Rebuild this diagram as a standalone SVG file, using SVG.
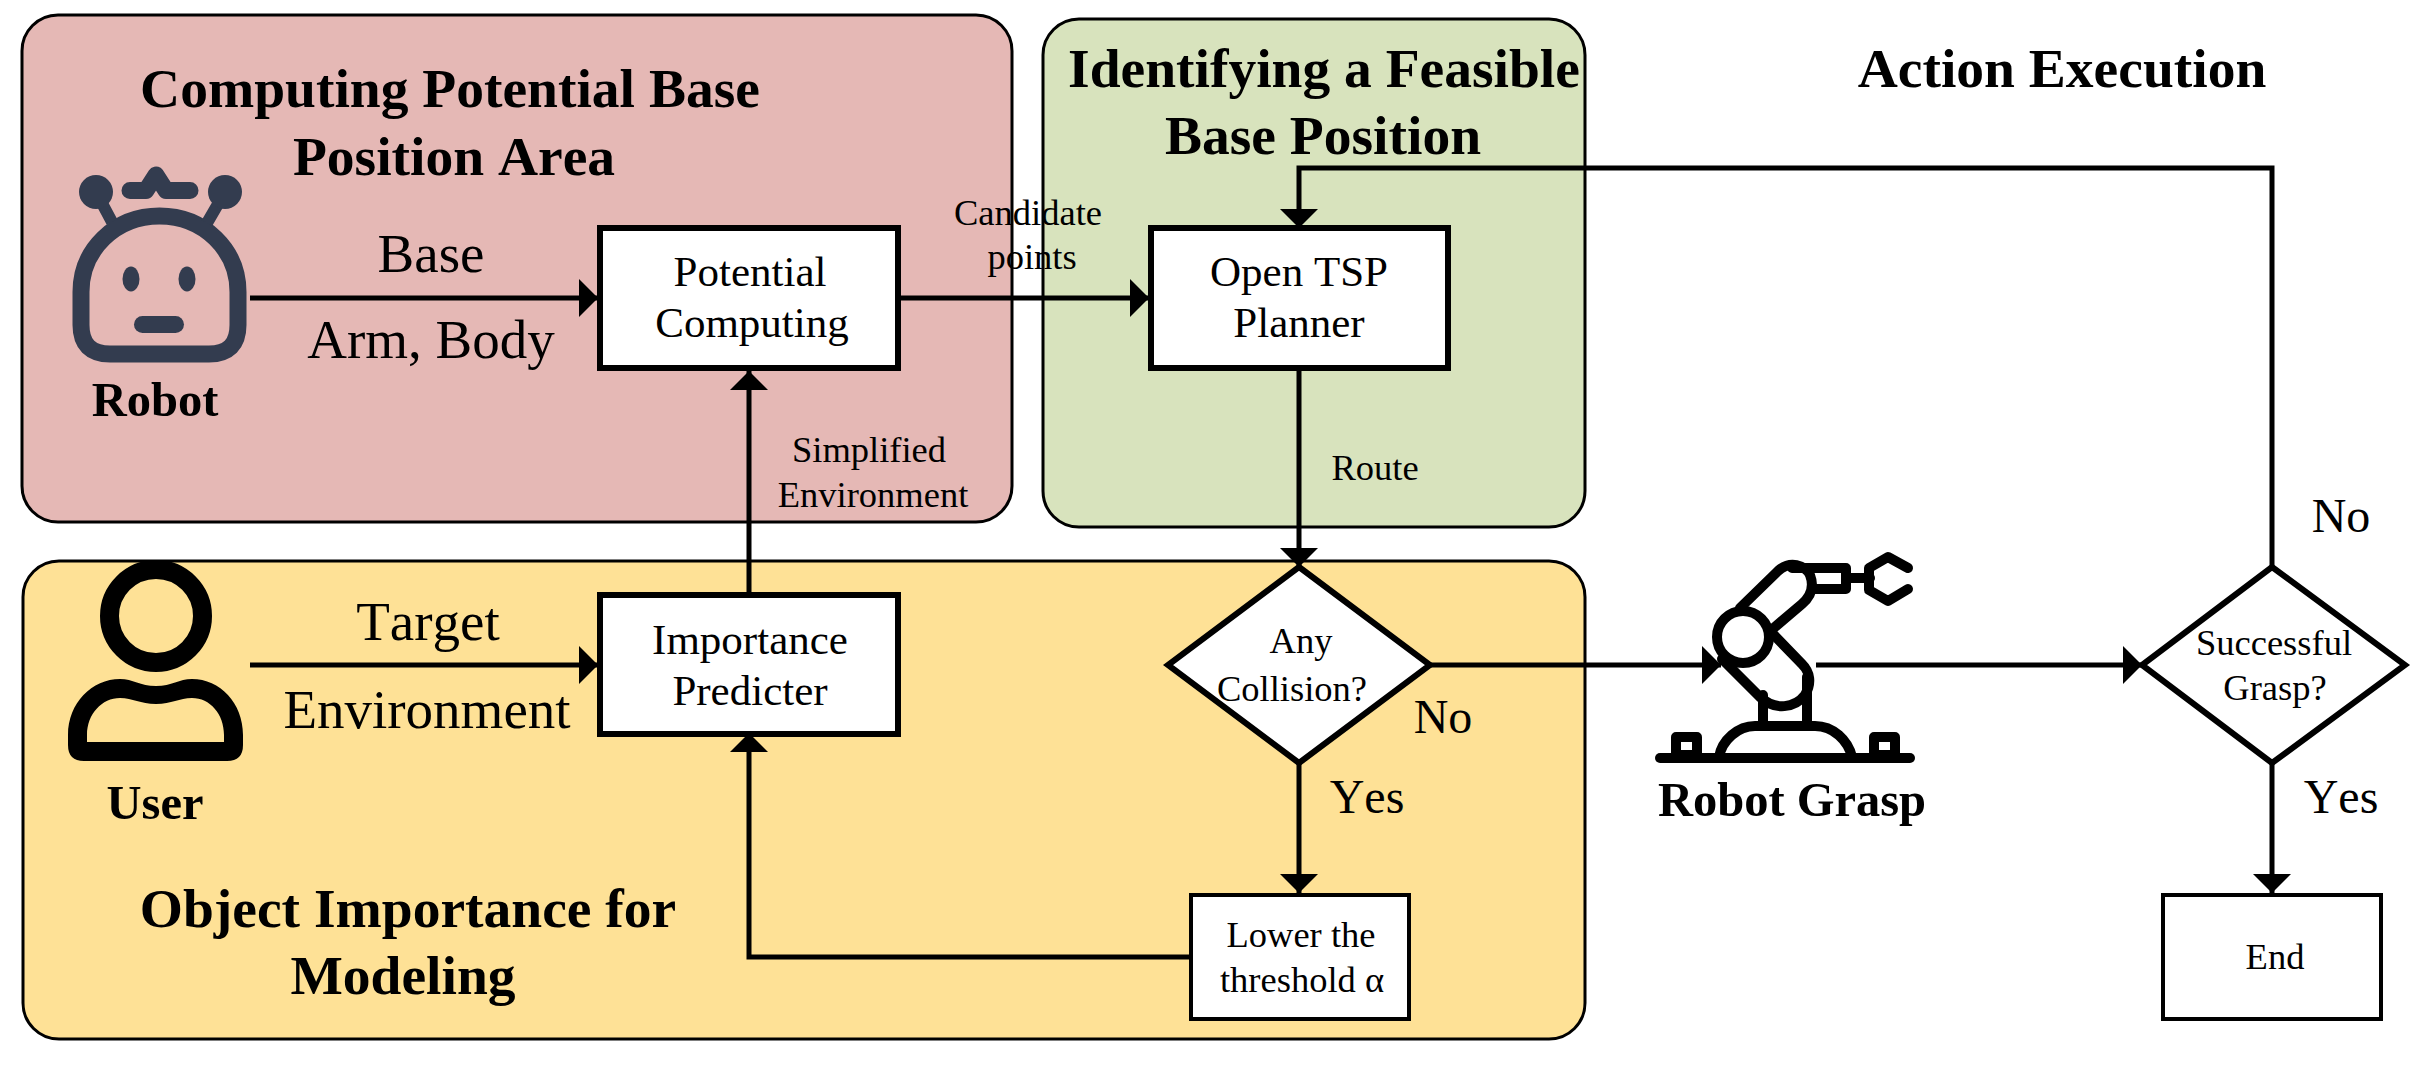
<svg xmlns="http://www.w3.org/2000/svg" width="2434" height="1066" viewBox="0 0 2434 1066">
<style>
text{font-family:"Liberation Serif","Times New Roman",serif;fill:#000;text-anchor:middle;font-kerning:none}
.t{font-size:55.5px;font-weight:bold}
.n{font-size:48.5px;font-weight:bold}
.l{font-size:55px}
.m{font-size:48px}
.b{font-size:43px}
.s{font-size:36.5px}
.panel{stroke:#000;stroke-width:3}
.box{fill:#fff;stroke:#000;stroke-width:6}
.thin{fill:#fff;stroke:#000;stroke-width:4}
.c{fill:none;stroke:#000;stroke-width:5}
.a{fill:none;stroke:#000;stroke-width:10;stroke-linecap:round;stroke-linejoin:round}
.i{fill:#333c4f}
</style>
<defs><marker id="ah" markerUnits="userSpaceOnUse" markerWidth="20" markerHeight="38" refX="19" refY="19" orient="auto"><path d="M0,0L19,19L0,38Z"/></marker></defs>
<rect x="22" y="15" width="990" height="507" rx="36" fill="#e5b8b5" class="panel"/>
<rect x="1043" y="19" width="542" height="508" rx="36" fill="#d8e3bd" class="panel"/>
<rect x="23" y="561" width="1562" height="478" rx="36" fill="#fee196" class="panel"/>
<g id="connectors">
<path class="c" d="M250,298H598" marker-end="url(#ah)"/>
<path class="c" d="M250,665H598" marker-end="url(#ah)"/>
<path class="c" d="M899,298H1149" marker-end="url(#ah)"/>
<path class="c" d="M749,595V371" marker-end="url(#ah)"/>
<path class="c" d="M1299,367V567" marker-end="url(#ah)"/>
<path class="c" d="M1299,763V893" marker-end="url(#ah)"/>
<path class="c" d="M1190,957H749V733" marker-end="url(#ah)"/>
<path class="c" d="M1430,665H1721" marker-end="url(#ah)"/>
<path class="c" d="M1816,665H2142" marker-end="url(#ah)"/>
<path class="c" d="M2272,567V168H1299V228" marker-end="url(#ah)"/>
<path class="c" d="M2272,763V893" marker-end="url(#ah)"/>
</g>
<text class="t" x="450" y="107">Computing Potential Base</text>
<text class="t" x="454" y="175">Position Area</text>
<text class="t" x="1324" y="87">Identifying a Feasible</text>
<text class="t" x="1323" y="154">Base Position</text>
<text class="t" x="2062" y="87">Action Execution</text>
<text class="t" x="408" y="927">Object Importance for</text>
<text class="t" x="403" y="994">Modeling</text>
<g id="robot">
<path d="M81,325V292C81,250 115,216 159.5,216C204,216 238,250 238,292V325Q238,354 209,354H110Q81,354 81,325Z" fill="none" stroke="#333c4f" stroke-width="17"/>
<path d="M96,192L112,222M225,192L207,223" stroke="#333c4f" stroke-width="12" fill="none"/>
<circle cx="96" cy="192" r="17" class="i"/><circle cx="225" cy="192" r="17" class="i"/>
<path d="M130,190.5H146L156,175L166,190.5H190" fill="none" stroke="#333c4f" stroke-width="17" stroke-linecap="round" stroke-linejoin="round"/>
<ellipse cx="131" cy="279" rx="8.5" ry="12.5" class="i"/><ellipse cx="187" cy="279" rx="8.5" ry="12.5" class="i"/>
<rect x="134" y="316" width="50" height="17" rx="8.5" class="i"/>
<text class="n" x="155" y="416">Robot</text>
</g>
<g id="user">
<circle cx="156" cy="616" r="46.5" fill="none" stroke="#000" stroke-width="19"/>
<path fill-rule="evenodd" d="M68,735C68,703 92,679 120,679C133,679 140,686 156,686C172,686 179,679 192,679C220,679 243,703 243,735V745Q243,761 227,761H84Q68,761 68,745ZM87,742V735C87,714 102,698 120,698C133,698 140,704 156,704C172,704 179,698 192,698C210,698 224,714 224,735V742Z"/>
<text class="n" x="155" y="819">User</text>
</g>
<text class="l" x="431" y="272">Base</text>
<text class="l" x="431" y="358">Arm, Body</text>
<text class="l" x="428" y="640">Target</text>
<text class="l" x="427" y="728">Environment</text>
<g id="potential"><rect class="box" x="600" y="228" width="298" height="140"/><text class="b" x="750" y="286">Potential</text><text class="b" x="752" y="337">Computing</text></g>
<g id="tsp"><rect class="box" x="1151" y="228" width="297" height="140"/><text class="b" x="1299" y="286">Open TSP</text><text class="b" x="1299" y="337">Planner</text></g>
<g id="importance"><rect class="box" x="600" y="595" width="298" height="139"/><text class="b" x="750" y="654">Importance</text><text class="b" x="750" y="705">Predicter</text></g>
<g id="lower"><rect class="thin" x="1191" y="895" width="218" height="124"/><text class="s" x="1301" y="947">Lower the</text><text class="s" x="1302" y="992">threshold α</text></g>
<g id="end"><rect class="thin" x="2163" y="895" width="218" height="124"/><text class="s" x="2275" y="969">End</text></g>
<g id="collision"><path class="box" d="M1299,567L1430,665L1299,763L1168,665Z"/><text class="s" x="1301" y="653">Any</text><text class="s" x="1292" y="701">Collision?</text></g>
<g id="grasp"><path class="box" d="M2272,567L2405,665L2272,763L2142,665Z"/><text class="s" x="2274" y="655">Successful</text><text class="s" x="2275" y="700">Grasp?</text></g>
<g id="arm">
<path class="a" stroke-width="11" d="M1660,758H1910"/>
<rect x="1676" y="737" width="21" height="18" class="a"/><rect x="1874" y="737" width="21" height="18" class="a"/>
<path class="a" d="M1719,757C1722,740 1738,726 1755,726H1815C1833,726 1848,740 1852,757"/>
<path class="a" d="M1763,695V726M1807,677V726"/>
<circle cx="1743" cy="637" r="26" class="a"/>
<path class="a" d="M1722,659L1760,697C1775,711 1795,708 1805,695C1812,683 1810,672 1802,664L1771,632"/>
<path class="a" d="M1740,608L1778,571C1790,560 1805,565 1810,575C1815,588 1810,597 1802,604L1769,632"/>
<path class="a" d="M1792,568H1846V589H1812M1850,578H1870"/>
<path class="a" d="M1908,568L1888,557L1869,568V590L1888,601L1908,589"/>
<text class="n" x="1792" y="816">Robot Grasp</text>
</g>
<text class="s" x="1028" y="225">Candidate</text>
<text class="s" x="1032" y="269">points</text>
<text class="s" x="869" y="462">Simplified</text>
<text class="s" x="873" y="507">Environment</text>
<text class="s" x="1375" y="480">Route</text>
<text class="m" x="1443" y="733">No</text>
<text class="m" x="1367" y="813">Yes</text>
<text class="m" x="2341" y="532">No</text>
<text class="m" x="2341" y="813">Yes</text>
</svg>
